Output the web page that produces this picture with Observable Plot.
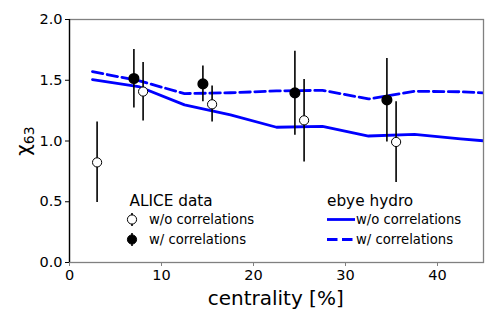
<!DOCTYPE html>
<html>
<head>
<meta charset="utf-8">
<script src="https://cdn.jsdelivr.net/npm/d3@7"></script>
<script src="https://cdn.jsdelivr.net/npm/@observablehq/plot@0.6"></script>
<style>
  body { margin: 0; background: #fff; }
  #chart svg { font-family: "DejaVu Sans", sans-serif; }
</style>
</head>
<body>
<div id="chart"></div>
<script>
// ALICE data, without correlations (open circles)
const woCent = [3, 8, 15.5, 25.5, 35.5];
const woVal  = [0.824, 1.407, 1.302, 1.170, 0.992];
const woLo   = [0.494, 1.165, 1.157, 0.827, 0.659];
const woHi   = [1.157, 1.646, 1.453, 1.506, 1.324];

// ALICE data, with correlations (filled circles)
const wCent = [7, 14.5, 24.5, 34.5];
const wVal  = [1.514, 1.470, 1.396, 1.338];
const wLo   = [1.272, 1.324, 1.047, 0.992];
const wHi   = [1.753, 1.618, 1.739, 1.679];

// ebye hydro curves
const hydroCent = [2.5, 7.5, 12.5, 17.5, 22.5, 27.5, 32.5, 37.5, 42.5, 47.5];
const hydroWo   = [1.505, 1.448, 1.297, 1.215, 1.113, 1.121, 1.041, 1.055, 1.018, 0.985];
const hydroW    = [1.571, 1.497, 1.390, 1.397, 1.412, 1.417, 1.346, 1.409, 1.405, 1.388];

const xTicks = [0, 10, 20, 30, 40];
const yTicks = [0.0, 0.5, 1.0, 1.5, 2.0];

const wo = woCent.map((c, i) => ({c, v: woVal[i], lo: woLo[i], hi: woHi[i]}));
const w  = wCent.map((c, i) => ({c, v: wVal[i], lo: wLo[i], hi: wHi[i]}));
const hydro = hydroCent.map((c, i) => ({c, wo: hydroWo[i], w: hydroW[i]}));

const blue = "#0000ff";
const gray = "#808080";
const dash = "10.5,4.5";

const chart = Plot.plot({
  width: 498,
  height: 324,
  marginLeft: 69,
  marginRight: 15,
  marginTop: 19,
  marginBottom: 62,
  style: {fontFamily: "DejaVu Sans, sans-serif", fontSize: "14.5px", color: "#000", background: "#fff"},
  x: {domain: [0, 45]},
  y: {domain: [0, 2]},
  marks: [
    Plot.line(hydro, {x: "c", y: "wo", stroke: blue, strokeWidth: 2.8, clip: true}),
    Plot.line(hydro, {x: "c", y: "w", stroke: blue, strokeWidth: 2.8, strokeDasharray: dash, clip: true}),
    Plot.ruleX(wo, {x: "c", y1: "lo", y2: "hi", stroke: "#000", strokeWidth: 1.6}),
    Plot.ruleX(w, {x: "c", y1: "lo", y2: "hi", stroke: "#000", strokeWidth: 1.6}),
    Plot.dot(w, {x: "c", y: "v", r: 4.8, fill: "#000", stroke: "#000"}),
    Plot.dot(wo, {x: "c", y: "v", r: 4.6, fill: "#fff", stroke: "#000", strokeWidth: 1}),
    Plot.frame({stroke: gray, strokeWidth: 1.3}),
    Plot.ruleX([0], {stroke: "#000", strokeWidth: 1.3}),
    Plot.axisX({ticks: xTicks, tickSize: 4, tickPadding: 3, stroke: gray, strokeWidth: 1, label: null, tickFormat: d3.format("d")}),
    Plot.axisY({ticks: yTicks, tickSize: 4, tickPadding: 3, stroke: "#000", label: null, tickFormat: d3.format(".1f")})
  ]
});

document.getElementById("chart").appendChild(chart);

const svg = d3.select(chart);
const font = "DejaVu Sans, sans-serif";

// axis labels
svg.append("text")
  .attr("x", 275.7).attr("y", 305)
  .attr("text-anchor", "middle")
  .attr("font-family", font).attr("font-size", 20)
  .attr("fill", "#000")
  .text("centrality [%]");

const yl = svg.append("text")
  .attr("transform", "translate(30,141) rotate(-90)")
  .attr("text-anchor", "middle")
  .attr("font-family", font).attr("font-size", 20)
  .attr("fill", "#000");
yl.append("tspan").text("χ");
yl.append("tspan").attr("font-size", 14).attr("dy", 4).text("63");

// legend: ALICE data
const lg = svg.append("g").attr("font-family", font).attr("fill", "#000").attr("text-anchor", "start");
lg.append("text").attr("x", 129.5).attr("y", 205.5).attr("font-size", 15.3).text("ALICE data");
const entries = [
  {y: 219.5, fill: "#fff", label: "w/o correlations"},
  {y: 239.5, fill: "#000", label: "w/ correlations"}
];
entries.forEach(e => {
  lg.append("line").attr("x1", 132).attr("x2", 132).attr("y1", e.y - 6.5).attr("y2", e.y + 6.5)
    .attr("stroke", "#000").attr("stroke-width", 1.6);
  lg.append("circle").attr("cx", 132).attr("cy", e.y).attr("r", 4.6)
    .attr("fill", e.fill).attr("stroke", "#000").attr("stroke-width", 1);
  lg.append("text").attr("x", 149).attr("y", e.y + 4.7).attr("font-size", 13.2).text(e.label);
});

// legend: ebye hydro
lg.append("text").attr("x", 327).attr("y", 205.5).attr("font-size", 15.3).text("ebye hydro");
const hEntries = [
  {y: 219.5, dash: null, label: "w/o correlations"},
  {y: 239.5, dash: dash, label: "w/ correlations"}
];
hEntries.forEach(e => {
  const l = lg.append("line").attr("x1", 327).attr("x2", 355).attr("y1", e.y).attr("y2", e.y)
    .attr("stroke", blue).attr("stroke-width", 2.8);
  if (e.dash) l.attr("stroke-dasharray", e.dash);
  lg.append("text").attr("x", 356).attr("y", e.y + 4.7).attr("font-size", 13.2).text(e.label);
});
</script>
</body>
</html>
